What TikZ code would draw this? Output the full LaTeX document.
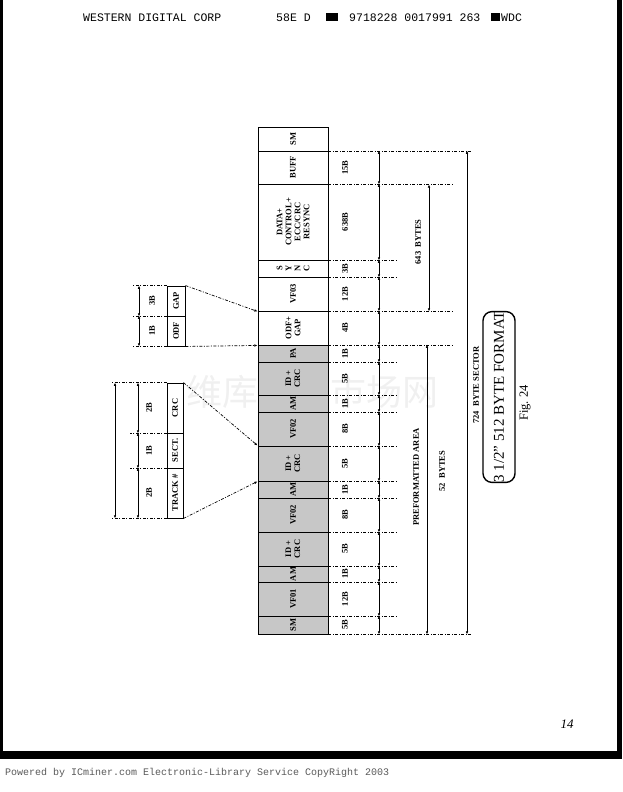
\documentclass[tikz,border=0pt]{standalone}
\usepackage{fontspec}
\setmainfont{Liberation Serif}
\newfontfamily\monofont{Liberation Mono}
\newfontfamily\cjkfont{Noto Sans CJK SC}
\usetikzlibrary{arrows.meta}

\tikzset{
  lab/.style={font=\fontsize{8.5}{9}\selectfont\bfseries},
  cell/.style={draw, line width=0.9pt, rotate=90, minimum height=70pt, inner sep=0pt, align=center, lab},
  small/.style={draw, line width=0.9pt, rotate=90, inner sep=0pt, align=center, lab},
  shade/.style={fill=black!22},
  sz/.style={rotate=90, inner sep=0pt, lab},
  ext/.style={line width=0.7pt, dash pattern=on 3pt off 1.5pt on 1pt off 1.5pt},
  dimarr/.style={line width=0.7pt, {Latex[length=3.2pt,width=2.6pt]}-{Latex[length=3.2pt,width=2.6pt]}},
  zoomline/.style={ext, -{Latex[length=3.2pt,width=2.6pt]}},
}

\begin{document}
\begin{tikzpicture}[x=1pt,y=-1pt]
\useasboundingbox (0,0) rectangle (622,792);

% page frame and scan header
\fill (0,0) rectangle (3,759);
\fill (617,0) rectangle (622,759);
\fill (0,751) rectangle (622,759);
\node[anchor=west, inner sep=0pt, font=\monofont\fontsize{11.5}{12}\selectfont] (hdr1) at (83,18) {WESTERN DIGITAL CORP};
\node[anchor=west, inner sep=0pt, font=\monofont\fontsize{11.5}{12}\selectfont] (hdr2) at (276,18) {58E D};
\node[fill, minimum width=12pt, minimum height=8pt, inner sep=0pt] (blk1) at (332,17) {};
\node[anchor=west, inner sep=0pt, font=\monofont\fontsize{11.5}{12}\selectfont] (hdr3) at (349,18) {9718228 0017991 263};
\node[fill, minimum width=9pt, minimum height=8pt, inner sep=0pt] (blk2) at (495.5,17) {};
\node[anchor=west, inner sep=0pt, font=\monofont\fontsize{11.5}{12}\selectfont] (hdr4) at (501,18) {WDC};
\node[anchor=west, inner sep=0pt, text=black!65, font=\monofont\fontsize{10}{10}\selectfont] (foot) at (5,773) {Powered by ICminer.com Electronic-Library Service CopyRight 2003};
\node[font=\itshape\fontsize{13}{13}\selectfont] (pg) at (567,724) {14};

% watermark
\node[text=black!6, font=\cjkfont\fontsize{36}{36}\selectfont] (wm) at (312,392) {维库电子市场网};

% main sector column, bottom to top
\node[cell, shade, minimum width=18pt] (1) at (293,625) {SM};
\node[cell, shade, minimum width=34pt] (2) at (293,599) {VF01};
\node[cell, shade, minimum width=16pt] (3) at (293,574) {AM};
\node[cell, shade, minimum width=34pt] (4) at (293,549) {ID +\\CRC};
\node[cell, shade, minimum width=34pt] (5) at (293,515) {VF02};
\node[cell, shade, minimum width=17pt] (6) at (293,489.5) {AM};
\node[cell, shade, minimum width=35pt] (7) at (293,463.5) {ID +\\CRC};
\node[cell, shade, minimum width=34pt] (8) at (293,429) {VF02};
\node[cell, shade, minimum width=17pt] (9) at (293,403.5) {AM};
\node[cell, shade, minimum width=33pt] (10) at (293,378.5) {ID +\\CRC};
\node[cell, shade, minimum width=17pt] (11) at (293,353.5) {PA};
\node[cell, minimum width=34pt] (12) at (293,328) {ODF+\\GAP};
\node[cell, minimum width=34pt] (13) at (293,294) {VF03};
\node[cell, minimum width=17pt, font=\fontsize{8.5}{9}\selectfont\bfseries] (14) at (293,268.5) {S\\Y\\N\\C};
\node[cell, minimum width=76pt] (15) at (293,222) {DATA+\\CONTROL+\\ECC/CRC\\RESYNC};
\node[cell, minimum width=33pt] (16) at (293,167.5) {BUFF};
\node[cell, minimum width=24pt] (17) at (293,139) {SM};

% byte counts
\coordinate (sx) at (345,0);
\node[sz] (s1) at (1 -| sx) {5B};
\node[sz] (s2) at (2 -| sx) {12B};
\node[sz] (s3) at (3 -| sx) {1B};
\node[sz] (s4) at (4 -| sx) {5B};
\node[sz] (s5) at (5 -| sx) {8B};
\node[sz] (s6) at (6 -| sx) {1B};
\node[sz] (s7) at (7 -| sx) {5B};
\node[sz] (s8) at (8 -| sx) {8B};
\node[sz] (s9) at (9 -| sx) {1B};
\node[sz] (s10) at (10 -| sx) {5B};
\node[sz] (s11) at (11 -| sx) {1B};
\node[sz] (s12) at (12 -| sx) {4B};
\node[sz] (s13) at (13 -| sx) {12B};
\node[sz] (s14) at (14 -| sx) {3B};
\node[sz] (s15) at (15 -| sx) {638B};
\node[sz] (s16) at (16 -| sx) {15B};

% extension lines
\coordinate (ex) at (398,0);
\coordinate (el) at (453,0);
\coordinate (ef) at (472,0);
\draw[ext] (1.south west) -- (1.south west -| ef);
\draw[ext] (2.south west) -- (2.south west -| ex);
\draw[ext] (3.south west) -- (3.south west -| ex);
\draw[ext] (4.south west) -- (4.south west -| ex);
\draw[ext] (5.south west) -- (5.south west -| ex);
\draw[ext] (6.south west) -- (6.south west -| ex);
\draw[ext] (7.south west) -- (7.south west -| ex);
\draw[ext] (8.south west) -- (8.south west -| ex);
\draw[ext] (9.south west) -- (9.south west -| ex);
\draw[ext] (10.south west) -- (10.south west -| ex);
\draw[ext] (11.south west) -- (11.south west -| ex);
\draw[ext] (12.south west) -- (12.south west -| el);
\draw[ext] (13.south west) -- (13.south west -| el);
\draw[ext] (14.south west) -- (14.south west -| ex);
\draw[ext] (15.south west) -- (15.south west -| ex);
\draw[ext] (16.south west) -- (16.south west -| el);
\draw[ext] (17.south west) -- (17.south west -| ef);

% dimension chain
\coordinate (dx) at (379,0);
\draw[dimarr] (1.west -| dx) -- (1.east -| dx);
\draw[dimarr] (2.west -| dx) -- (2.east -| dx);
\draw[dimarr] (3.west -| dx) -- (3.east -| dx);
\draw[dimarr] (4.west -| dx) -- (4.east -| dx);
\draw[dimarr] (5.west -| dx) -- (5.east -| dx);
\draw[dimarr] (6.west -| dx) -- (6.east -| dx);
\draw[dimarr] (7.west -| dx) -- (7.east -| dx);
\draw[dimarr] (8.west -| dx) -- (8.east -| dx);
\draw[dimarr] (9.west -| dx) -- (9.east -| dx);
\draw[dimarr] (10.west -| dx) -- (10.east -| dx);
\draw[dimarr] (11.west -| dx) -- (11.east -| dx);
\draw[dimarr] (12.west -| dx) -- (12.east -| dx);
\draw[dimarr] (13.west -| dx) -- (13.east -| dx);
\draw[dimarr] (14.west -| dx) -- (14.east -| dx);
\draw[dimarr] (15.west -| dx) -- (15.east -| dx);
\draw[dimarr] (16.west -| dx) -- (16.east -| dx);

% totals
\coordinate (d643) at (429,0);
\coordinate (d52) at (427,0);
\coordinate (d724) at (467,0);
\draw[dimarr] (16.west -| d643) -- (13.west -| d643);
\node[sz] (t643) at (418,242) {643\ \ BYTES};
\draw[dimarr] (11.east -| d52) -- (1.west -| d52);
\node[sz] (tpre) at (416,477) {PREFORMATTED AREA};
\node[sz] (t52) at (442,471) {52\ \ BYTES};
\draw[dimarr] (16.east -| d724) -- (1.west -| d724);
\node[sz] (t724) at (476,385) {724\ \ BYTE SECTOR};

% ODF / GAP detail
\node[small, minimum width=30pt, minimum height=18pt] (21) at (176,301) {GAP};
\node[small, minimum width=30pt, minimum height=18pt] (22) at (176,331) {ODF};
\coordinate (l1) at (132,0);
\coordinate (a1) at (139,0);
\coordinate (b1) at (152,0);
\draw[ext] (21.north east) -- (21.north east -| l1);
\draw[ext] (21.north west) -- (21.north west -| l1);
\draw[ext] (22.north west) -- (22.north west -| l1);
\draw[dimarr] (21.west -| a1) -- (21.east -| a1);
\draw[dimarr] (22.west -| a1) -- (22.east -| a1);
\node[sz] (g1) at (21 -| b1) {3B};
\node[sz] (g2) at (22 -| b1) {1B};
\draw[zoomline] (21.south east) -- (13.north west);
\draw[zoomline] (22.south west) -- (12.north west);

% TRACK / SECT / CRC detail
\node[small, minimum width=50pt, minimum height=16pt] (31) at (175,408) {CRC};
\node[small, minimum width=35pt, minimum height=16pt] (32) at (175,450.5) {SECT.};
\node[small, minimum width=50pt, minimum height=16pt] (33) at (175,493) {TRACK \#};
\coordinate (l2) at (112,0);
\coordinate (l3) at (130,0);
\coordinate (a2) at (138,0);
\coordinate (a3) at (115,0);
\coordinate (b2) at (149,0);
\draw[ext] (31.north east) -- (31.north east -| l2);
\draw[ext] (31.north west) -- (31.north west -| l3);
\draw[ext] (32.north west) -- (32.north west -| l3);
\draw[ext] (33.north west) -- (33.north west -| l2);
\draw[dimarr] (31.west -| a2) -- (31.east -| a2);
\draw[dimarr] (32.west -| a2) -- (32.east -| a2);
\draw[dimarr] (33.west -| a2) -- (33.east -| a2);
\draw[dimarr] (33.west -| a3) -- (31.east -| a3);
\node[sz] (h1) at (31 -| b2) {2B};
\node[sz] (h2) at (32 -| b2) {1B};
\node[sz] (h3) at (33 -| b2) {2B};
\draw[zoomline] (31.south east) -- (7.north east);
\draw[zoomline] (33.south west) -- (7.north west);

% title
\node[draw, line width=1.4pt, rounded corners=9pt, rotate=90, minimum width=168pt, minimum height=32pt, inner sep=0pt, font=\fontsize{15}{15}\selectfont] (title) at (499,397) {3 1/2'' 512 BYTE FORMAT};
\node[rotate=90, inner sep=0pt, font=\fontsize{12.5}{12.5}\selectfont] (fig) at (525,403) {Fig.\ 24};
\end{tikzpicture}
\end{document}
